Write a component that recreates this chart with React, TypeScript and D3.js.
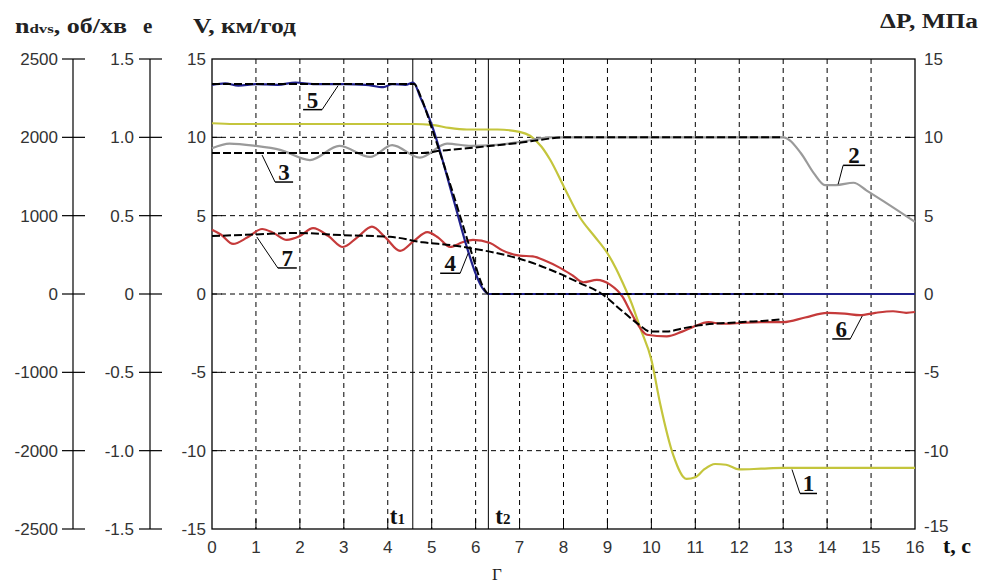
import React from 'react';
import * as d3 from 'd3';

// axis ticks
const tTicks = d3.range(0, 17);
const vTicks = [15, 10, 5, 0, -5, -10, -15];
const nTicks = [2500, 2000, 1000, 0, -1000, -2000, -2500];
const eTicks = [1.5, 1.0, 0.5, 0, -0.5, -1.0, -1.5];
const gridV = [10, 5, 0, -5, -10];

// time marks
const t1 = 4.57;
const t2 = 6.29;

// 1 - yellow
const curve1: [number, number][] = [
  [0, 10.9], [0.5, 10.85], [1, 10.85], [2, 10.85], [3, 10.85], [4, 10.85], [4.6, 10.85], [5.0, 10.8],
  [5.4, 10.6], [5.8, 10.5], [6.5, 10.5], [7.0, 10.35], [7.24, 10.1], [7.5, 9.4], [7.7, 8.55], [8.0, 6.9],
  [8.37, 4.9], [8.7, 3.7], [9.0, 2.6], [9.2, 1.6], [9.35, 0.7], [9.55, -0.6], [9.75, -2.2], [10.0, -4.2],
  [10.2, -7.0], [10.5, -10.3], [10.8, -11.8], [11.0, -11.7], [11.2, -11.2], [11.45, -10.85], [11.7, -10.9],
  [12.0, -11.2], [12.5, -11.15], [13, -11.1], [14, -11.1], [16, -11.1],
];
// 2 - grey
const curve2: [number, number][] = [
  [0, 9.3], [0.4, 9.6], [1.0, 9.45], [1.55, 9.2], [2.23, 8.55], [2.9, 9.45], [3.6, 8.75], [4.1, 9.5],
  [4.73, 8.7], [5.35, 9.6], [5.9, 9.45], [6.4, 9.5], [7.0, 9.7], [7.7, 10.0], [9, 10.0], [11, 10.0],
  [13, 10.0], [13.4, 9.0], [13.7, 7.7], [13.95, 6.95], [14.2, 6.95], [14.6, 7.1], [14.9, 6.6],
  [15.35, 5.8], [16, 4.6],
];
// 3 - model, dashed
const curve3: [number, number][] = [
  [0, 9.0], [2, 9.0], [4, 9.0], [4.8, 9.0], [5.2, 9.15], [5.8, 9.3], [6.5, 9.5], [7.0, 9.65],
  [7.5, 9.85], [8, 10.0], [13, 10.0],
];
// 5 - blue
const curve5: [number, number][] = [
  [0, 13.35], [0.3, 13.45], [0.6, 13.3], [1, 13.4], [1.5, 13.35], [1.9, 13.5], [2.3, 13.4], [3, 13.4],
  [3.5, 13.35], [3.9, 13.2], [4.1, 13.4], [4.4, 13.35], [4.58, 13.5], [4.75, 12.5], [5.0, 10.8],
  [5.5, 6.0], [5.8, 3.0], [6.0, 1.3], [6.15, 0.4], [6.3, 0], [10, 0], [16, 0],
];
// 4 - model, dashed
const curve4: [number, number][] = [
  [0, 13.4], [2, 13.4], [4.6, 13.4], [4.75, 12.6], [5.0, 10.6], [5.5, 6.3], [5.9, 2.7], [6.2, 0.3],
  [6.3, 0], [9, 0], [13, 0],
];
// 6/7 - red
const curveRed: [number, number][] = [
  [0, 4.1], [0.2, 3.8], [0.48, 3.2], [0.8, 3.6], [1.14, 4.15], [1.4, 3.9], [1.7, 3.45], [2.0, 3.7],
  [2.3, 4.2], [2.65, 3.7], [2.98, 3.0], [3.3, 3.6], [3.64, 4.3], [3.95, 3.6], [4.28, 2.75], [4.6, 3.4],
  [4.9, 3.95], [5.15, 3.6], [5.42, 3.0], [5.7, 3.3], [5.94, 3.45], [6.33, 3.25], [6.6, 2.8], [7.0, 2.45],
  [7.3, 2.4], [7.6, 2.1], [7.9, 1.7], [8.2, 1.2], [8.45, 0.75], [8.76, 0.9], [9.06, 0.6], [9.35, -0.2],
  [9.5, -1.0], [9.67, -1.85], [9.9, -2.6], [10.35, -2.7], [10.7, -2.4], [10.95, -2.1], [11.3, -1.8],
  [11.6, -1.9], [12.0, -1.85], [12.5, -1.8], [13, -1.8], [13.5, -1.5], [14, -1.2], [14.4, -1.25],
  [14.75, -1.35], [15.1, -1.2], [15.5, -1.1], [15.8, -1.2], [16, -1.15],
];
// 6/7 - model, dashed
const curveRedModel: [number, number][] = [
  [0, 3.7], [1, 3.8], [1.9, 3.9], [3, 3.75], [4.05, 3.65], [4.8, 3.3], [5.5, 3.1], [5.94, 2.9],
  [6.5, 2.6], [7, 2.25], [7.7, 1.55], [8.37, 0.7], [8.85, 0.05], [9.3, -1.0], [9.74, -2.0], [9.97, -2.4],
  [10.35, -2.4], [10.7, -2.2], [11.1, -2.0], [12, -1.8], [12.85, -1.65], [13, -1.6],
];

// callouts: label, point on curve (t, v)
const callouts = [
  { label: '5', t: 2.87, v: 13.3, ux: -35, uy: 24, w: 19, side: 'right' },
  { label: '3', t: 1.14, v: 8.87, ux: 13, uy: 27, w: 18, side: 'left' },
  { label: '7', t: 1.02, v: 3.64, ux: 21, uy: 31, w: 19, side: 'left' },
  { label: '4', t: 5.83, v: 2.6, ux: -28, uy: 20, w: 20, side: 'right' },
  { label: '2', t: 14.25, v: 7.0, ux: 5, uy: -19, w: 22, side: 'left' },
  { label: '6', t: 14.8, v: -1.4, ux: -30, uy: 23, w: 18, side: 'right' },
  { label: '1', t: 13.2, v: -11.2, ux: 8, uy: 24, w: 17, side: 'left' },
];

const W = 989;
const H = 585;
const L = 212, R = 915, T = 59, B = 529;
const sans = '"Liberation Sans", Arial, sans-serif';
const serif = '"Liberation Serif", "Times New Roman", serif';

export default function App() {
  const x = d3.scaleLinear().domain([0, 16]).range([L, R]);
  const y = d3.scaleLinear().domain([-15, 15]).range([B, T]);
  const yn = d3.scaleLinear().domain([-2500, -2000, 2000, 2500]).range([y(-15), y(-10), y(10), y(15)]);
  const ye = d3.scaleLinear().domain([-1.5, 1.5]).range([B, T]);
  const line = d3.line<[number, number]>().x(d => x(d[0])).y(d => y(d[1])).curve(d3.curveMonotoneX);

  const nX = 73;
  const eX = 150;
  const fs = 17;

  return (
    <svg width={W} height={H} style={{ position: 'absolute', left: 0, top: 0, background: '#fff' }}>
      {/* titles */}
      <text x={15} y={33} fontFamily={serif} fontWeight="bold" fontSize={20} fill="#222" textLength={112} lengthAdjust="spacingAndGlyphs">
        n<tspan fontSize={13}>dvs</tspan>, об/хв
      </text>
      <text x={143} y={33} fontFamily={serif} fontWeight="bold" fontSize={21} fill="#222">e</text>
      <text x={193} y={33} fontFamily={serif} fontWeight="bold" fontSize={20} fill="#222" textLength={103} lengthAdjust="spacingAndGlyphs">V, км/год</text>
      <text x={880} y={28} fontFamily={serif} fontWeight="bold" fontSize={20} fill="#222" textLength={98} lengthAdjust="spacingAndGlyphs">ΔP, МПа</text>

      {/* n axis */}
      <line x1={nX} x2={nX} y1={yn(2500)} y2={yn(-2500)} stroke="#000" strokeWidth={1.2} />
      {nTicks.map(d => (
        <g key={'n' + d}>
          <line x1={nX - 11} x2={nX + 12} y1={yn(d)} y2={yn(d)} stroke="#000" strokeWidth={1.2} />
          <text x={nX - 15} y={yn(d)} dy="0.35em" textAnchor="end" fontFamily={sans} fontSize={fs} fill="#333">{d}</text>
        </g>
      ))}
      {/* e axis */}
      <line x1={eX} x2={eX} y1={ye(1.5)} y2={ye(-1.5)} stroke="#000" strokeWidth={1.2} />
      {eTicks.map(d => (
        <g key={'e' + d}>
          <line x1={eX - 11} x2={eX + 12} y1={ye(d)} y2={ye(d)} stroke="#000" strokeWidth={1.2} />
          <text x={eX - 16} y={ye(d)} dy="0.35em" textAnchor="end" fontFamily={sans} fontSize={fs} fill="#333">
            {d === 0 ? '0' : d.toFixed(1)}
          </text>
        </g>
      ))}

      {/* grid */}
      {tTicks.filter(d => d > 0 && d < 16).map(d => (
        <g key={'gx' + d}>
          <line x1={x(d)} x2={x(d)} y1={T} y2={B} stroke="#000" strokeWidth={1} strokeDasharray="5,4" />
          <line x1={x(d)} x2={x(d)} y1={B - 10} y2={B} stroke="#000" strokeWidth={1} />
        </g>
      ))}
      {gridV.map(d => (
        <g key={'gy' + d}>
          <line x1={L} x2={R} y1={y(d)} y2={y(d)} stroke="#000" strokeWidth={1} strokeDasharray="5,4" />
          <line x1={L} x2={L + 10} y1={y(d)} y2={y(d)} stroke="#000" strokeWidth={1} />
          <line x1={R - 10} x2={R} y1={y(d)} y2={y(d)} stroke="#000" strokeWidth={1} />
        </g>
      ))}
      <rect x={L} y={T} width={R - L} height={B - T} fill="none" stroke="#000" strokeWidth={1.3} />

      {/* t1, t2 */}
      <line x1={x(t1)} x2={x(t1)} y1={T} y2={B} stroke="#000" strokeWidth={1} />
      <line x1={x(t2)} x2={x(t2)} y1={T} y2={B} stroke="#000" strokeWidth={1} />
      <text x={x(t1) - 23} y={B - 5} fontFamily={serif} fontWeight="bold" fontSize={23} fill="#111">
        t<tspan fontSize={15}>1</tspan>
      </text>
      <text x={x(t2) + 7} y={B - 5} fontFamily={serif} fontWeight="bold" fontSize={23} fill="#111">
        t<tspan fontSize={15}>2</tspan>
      </text>

      {/* V labels left and ΔP labels right */}
      {vTicks.map(d => (
        <g key={'v' + d}>
          <text x={L - 6} y={y(d)} dy="0.35em" textAnchor="end" fontFamily={sans} fontSize={fs} fill="#333">{d}</text>
          <text x={R + 9} y={y(d) - (d === -15 ? 3 : 0)} dy="0.35em" textAnchor="start" fontFamily={sans} fontSize={fs} fill="#333">{d}</text>
        </g>
      ))}
      {/* t labels */}
      {tTicks.map(d => (
        <text key={'t' + d} x={x(d)} y={B + 24} textAnchor="middle" fontFamily={sans} fontSize={fs} fill="#333">{d}</text>
      ))}
      <text x={943} y={553} fontFamily={serif} fontWeight="bold" fontSize={22} fill="#111">t, c</text>
      <text x={497} y={580} textAnchor="middle" fontFamily={serif} fontSize={17} fill="#222">Г</text>

      {/* curves */}
      <path d={line(curve1) || ''} fill="none" stroke="#c4c53c" strokeWidth={2.2} />
      <path d={line(curve2) || ''} fill="none" stroke="#9a9a9a" strokeWidth={2.2} />
      <path d={line(curveRed) || ''} fill="none" stroke="#c53a3a" strokeWidth={2.2} />
      <path d={line(curve5) || ''} fill="none" stroke="#20208c" strokeWidth={2.2} />
      <path d={line(curve3) || ''} fill="none" stroke="#000" strokeWidth={2} strokeDasharray="8,3" />
      <path d={line(curve4) || ''} fill="none" stroke="#000" strokeWidth={2} strokeDasharray="8,3" />
      <path d={line(curveRedModel) || ''} fill="none" stroke="#000" strokeWidth={2} strokeDasharray="8,3" />

      {/* callouts */}
      {callouts.map(c => {
        const ax = x(c.t);
        const ay = y(c.v);
        const ux1 = ax + c.ux;
        const ux2 = ux1 + c.w;
        const uy = ay + c.uy;
        const jx = c.side === 'right' ? ux2 : ux1;
        return (
          <g key={'c' + c.label}>
            <line x1={ax} y1={ay} x2={jx} y2={uy} stroke="#000" strokeWidth={1} />
            <line x1={ux1} y1={uy} x2={ux2} y2={uy} stroke="#000" strokeWidth={1.5} />
            <text x={(ux1 + ux2) / 2} y={uy - 2} textAnchor="middle" fontFamily={serif} fontWeight="bold" fontSize={23} fill="#111">
              {c.label}
            </text>
          </g>
        );
      })}
    </svg>
  );
}
